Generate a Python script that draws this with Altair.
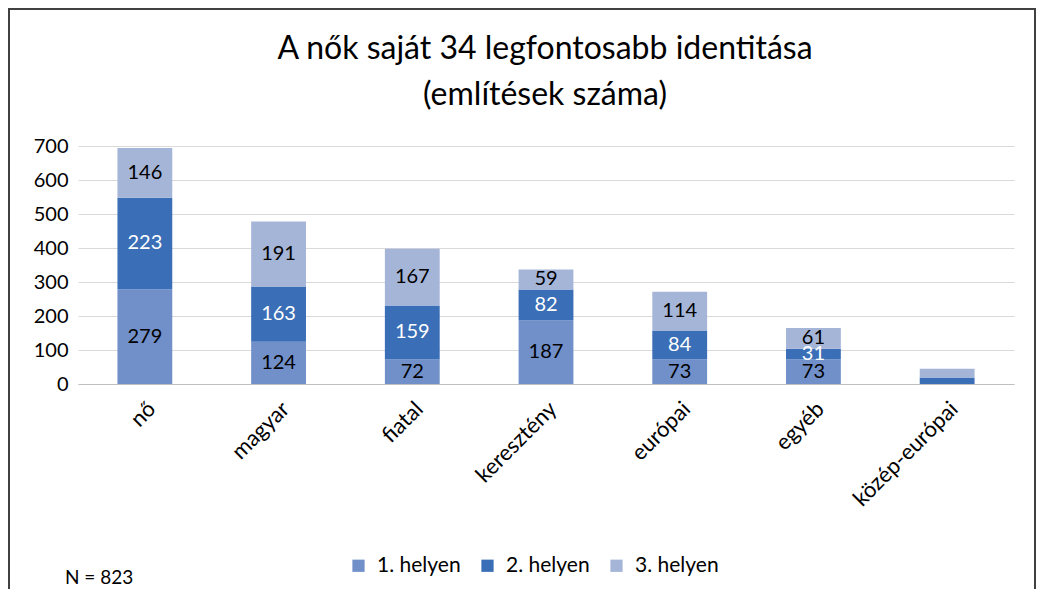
import altair as alt
import pandas as pd

categories = ["nő", "magyar", "fiatal", "keresztény", "európai", "egyéb", "közép-európai"]
series = ["1. helyen", "2. helyen", "3. helyen"]
first = [279, 124, 72, 187, 73, 73, 0]
second = [269, 163, 159, 91, 84, 31, 19]
third = [146, 191, 167, 59, 114, 61, 26]
first_labels = ["279", "124", "72", "187", "73", "73", ""]
second_labels = ["223", "163", "159", "82", "84", "31", ""]
third_labels = ["146", "191", "167", "59", "114", "61", ""]
y_ticks = [0, 100, 200, 300, 400, 500, 600, 700]
title_lines = ["A nők saját 34 legfontosabb identitása", "(említések száma)"]
note_text = ["N = 823"]
colors = ["#7190C9", "#3A6EB6", "#A5B5D8"]
label_colors = ["#000000", "#FFFFFF", "#000000"]

FONT = "Lato"

rows = []
for si, (vals, labs) in enumerate([(first, first_labels), (second, second_labels), (third, third_labels)]):
    for ci, cat in enumerate(categories):
        rows.append({"cat": cat, "series": series[si], "idx": si, "value": vals[ci],
                     "label": labs[ci], "tcolor": label_colors[si]})
df = pd.DataFrame(rows)

base = alt.Chart(df).transform_stack(
    stack="value", groupby=["cat"], sort=[alt.SortField("idx", order="ascending")], as_=["y0", "y1"]
).transform_calculate(mid="(datum.y0 + datum.y1) / 2")

yscale = alt.Scale(domain=[0, 700])
yaxis = alt.Axis(values=y_ticks, domain=False, ticks=False,
                 labelFontSize=20, labelFont=FONT, labelColor="#000000", labelPadding=10,
                 gridColor="#D9D9D9", labelOverlap=False)

xenc = alt.X("cat:N", sort=categories, title=None,
             scale=alt.Scale(paddingInner=0.59, paddingOuter=0.295),
             axis=alt.Axis(labelAngle=-45, labelFontSize=22, labelFont=FONT, labelColor="#000000",
                           ticks=False, domainColor="#BFBFBF", labelPadding=14))

bars = base.mark_bar().encode(
    x=xenc,
    y=alt.Y("y0:Q", title=None, scale=yscale, axis=yaxis),
    y2="y1:Q",
    color=alt.Color("series:N", sort=series, title=None,
                    scale=alt.Scale(domain=series, range=colors),
                    legend=alt.Legend(orient="none", legendX=270, legendY=409, direction="horizontal",
                                      symbolType="square", symbolSize=150, symbolStrokeWidth=0,
                                      labelFontSize=21, labelFont=FONT, labelColor="#000000",
                                      columnPadding=16, labelOffset=8)),
)

texts = base.mark_text(fontSize=20, font=FONT, baseline="middle").encode(
    x=xenc,
    y=alt.Y("mid:Q", title=None, scale=yscale, axis=yaxis),
    text="label:N",
    color=alt.Color("tcolor:N", scale=None),
)

border = alt.Chart(pd.DataFrame({"a": [0]})).mark_rect(
    fill="#FFFFFF", fillOpacity=0, stroke="#404040", strokeWidth=2
).encode(
    x=alt.value(-69), x2=alt.value(957), y=alt.value(-137), y2=alt.value(470)
)

title1 = alt.Chart(pd.DataFrame({"t": [title_lines[0]]})).mark_text(
    fontSize=32, font=FONT, align="center", baseline="middle", color="#000000"
).encode(x=alt.value(467), y=alt.value(-97), text="t:N")

title2 = alt.Chart(pd.DataFrame({"t": [title_lines[1]]})).mark_text(
    fontSize=32, font=FONT, align="center", baseline="middle", color="#000000"
).encode(x=alt.value(467), y=alt.value(-51), text="t:N")

note = alt.Chart(pd.DataFrame({"t": note_text})).mark_text(
    fontSize=19, font=FONT, align="left", baseline="middle", color="#000000"
).encode(x=alt.value(-13), y=alt.value(432), text="t:N")

chart = alt.layer(border, bars, texts, title1, title2, note).properties(
    width=936, height=238,
    padding={"left": 70, "top": 138, "right": 22, "bottom": 205},
    autosize=alt.AutoSizeParams(type="none"),
).configure_view(stroke=None)

chart.save("out.html", embed_options={"renderer": "svg", "actions": False})
